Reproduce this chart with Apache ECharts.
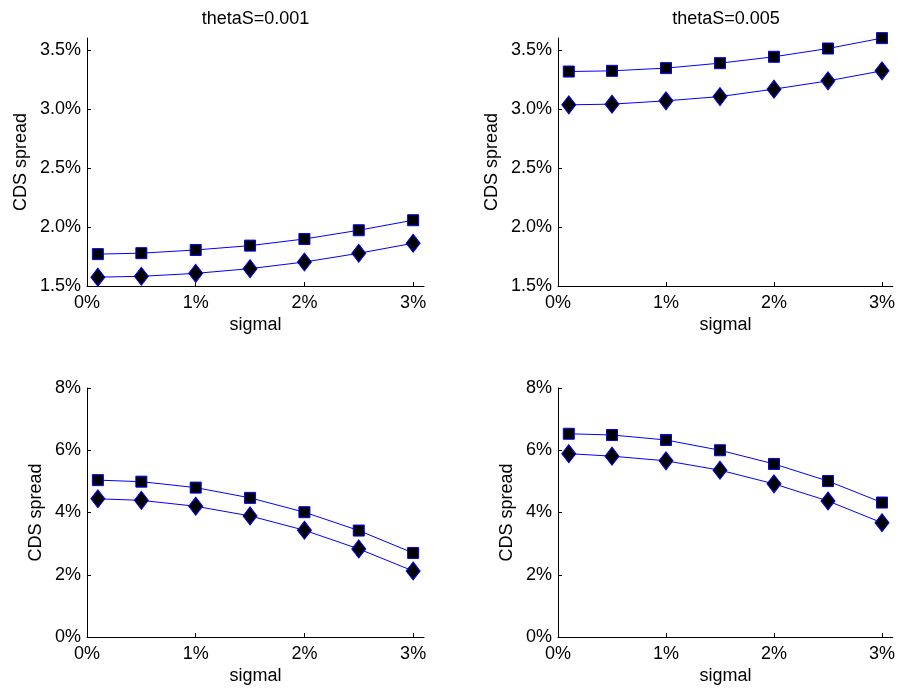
<!DOCTYPE html>
<html>
<head>
<meta charset="utf-8">
<script src="https://cdn.jsdelivr.net/npm/echarts@6/dist/echarts.min.js"></script>
<style>html,body{margin:0;padding:0;background:#fff}#c{width:898px;height:688px}</style>
</head>
<body>
<div id="c"></div>
<script>
// ---- data ----
var sigma = [0.1, 0.5, 1, 1.5, 2, 2.5, 3];               // sigmal (%)
var titles = ['thetaS=0.001', 'thetaS=0.005'];
var xTicks = [0, 1, 2, 3];
var yTicksTop = [1.5, 2.0, 2.5, 3.0, 3.5];
var yTicksBottom = [0, 2, 4, 6, 8];
// top-left (thetaS=0.001)
var tlSquare  = [1.770, 1.778, 1.805, 1.842, 1.898, 1.972, 2.057];
var tlDiamond = [1.575, 1.582, 1.607, 1.647, 1.703, 1.777, 1.862];
// top-right (thetaS=0.005)
var trSquare  = [3.316, 3.322, 3.345, 3.387, 3.441, 3.511, 3.599];
var trDiamond = [3.034, 3.040, 3.068, 3.104, 3.167, 3.237, 3.322];
// bottom-left
var blSquare  = [5.04, 4.99, 4.80, 4.47, 4.01, 3.42, 2.70];
var blDiamond = [4.44, 4.39, 4.20, 3.89, 3.43, 2.83, 2.12];
// bottom-right
var brSquare  = [6.53, 6.49, 6.33, 6.00, 5.56, 5.01, 4.32];
var brDiamond = [5.89, 5.81, 5.66, 5.36, 4.92, 4.37, 3.67];

var FONT = 'Liberation Sans, Arial, Helvetica, sans-serif';
var FS = 18;

function pairs(ys) { return sigma.map(function (x, i) { return [x, ys[i]]; }); }

var grids = [
  {left: 87, top: 38, width: 337, height: 248},
  {left: 558, top: 38, width: 336, height: 248},
  {left: 87, top: 388, width: 337, height: 249},
  {left: 558, top: 388, width: 336, height: 249}
];

function xAxis(i) {
  return {
    type: 'value', gridIndex: i, min: 0, max: 3.1,
    name: 'sigmal', nameLocation: 'middle', nameGap: 30,
    nameTextStyle: {fontFamily: FONT, fontSize: FS, color: '#000'},
    axisLine: {show: true, lineStyle: {color: '#000', width: 1}},
    axisTick: {show: true, inside: true, length: 4, customValues: xTicks, lineStyle: {color: '#000'}},
    axisLabel: {show: true, margin: 8, customValues: xTicks, fontFamily: FONT, fontSize: FS, color: '#000',
      formatter: function (v) { return Math.round(v) + '%'; }},
    splitLine: {show: false}
  };
}
function yAxis(i, top) {
  return {
    type: 'value', gridIndex: i,
    min: top ? 1.5 : 0, max: top ? 3.6 : 8,
    name: 'CDS spread', nameLocation: 'middle', nameRotate: 90, nameGap: top ? 57 : 42,
    nameTextStyle: {fontFamily: FONT, fontSize: FS, color: '#000'},
    axisLine: {show: true, lineStyle: {color: '#000', width: 1}},
    axisTick: {show: true, inside: true, length: 4, customValues: top ? yTicksTop : yTicksBottom, lineStyle: {color: '#000'}},
    axisLabel: {show: true, margin: 6, customValues: top ? yTicksTop : yTicksBottom, fontFamily: FONT, fontSize: FS, color: '#000',
      formatter: function (v) { return top ? v.toFixed(1) + '%' : Math.round(v) + '%'; }},
    splitLine: {show: false}
  };
}
function series(i, ys, sym) {
  return {
    type: 'line', xAxisIndex: i, yAxisIndex: i, data: pairs(ys),
    symbol: sym === 'sq' ? 'rect' : 'diamond',
    symbolSize: sym === 'sq' ? 11 : [14, 18],
    showAllSymbol: true,
    lineStyle: {color: '#0000ff', width: 1},
    itemStyle: {color: '#000', borderColor: '#0000ff', borderWidth: 1},
    emphasis: {disabled: true},
    animation: false, z: 3
  };
}

var option = {
  backgroundColor: '#fff',
  animation: false,
  grid: grids,
  xAxis: [xAxis(0), xAxis(1), xAxis(2), xAxis(3)],
  yAxis: [yAxis(0, true), yAxis(1, true), yAxis(2, false), yAxis(3, false)],
  graphic: [
    {type: 'text', x: 255.5, y: 19, style: {text: titles[0], align: 'center', verticalAlign: 'middle', font: FS + 'px ' + FONT, fill: '#000'}},
    {type: 'text', x: 726, y: 19, style: {text: titles[1], align: 'center', verticalAlign: 'middle', font: FS + 'px ' + FONT, fill: '#000'}}
  ],
  series: [
    series(0, tlSquare, 'sq'), series(0, tlDiamond, 'di'),
    series(1, trSquare, 'sq'), series(1, trDiamond, 'di'),
    series(2, blSquare, 'sq'), series(2, blDiamond, 'di'),
    series(3, brSquare, 'sq'), series(3, brDiamond, 'di')
  ]
};
var chart = echarts.init(document.getElementById('c'), null, {renderer: 'canvas'});
chart.setOption(option);
</script>
</body>
</html>
